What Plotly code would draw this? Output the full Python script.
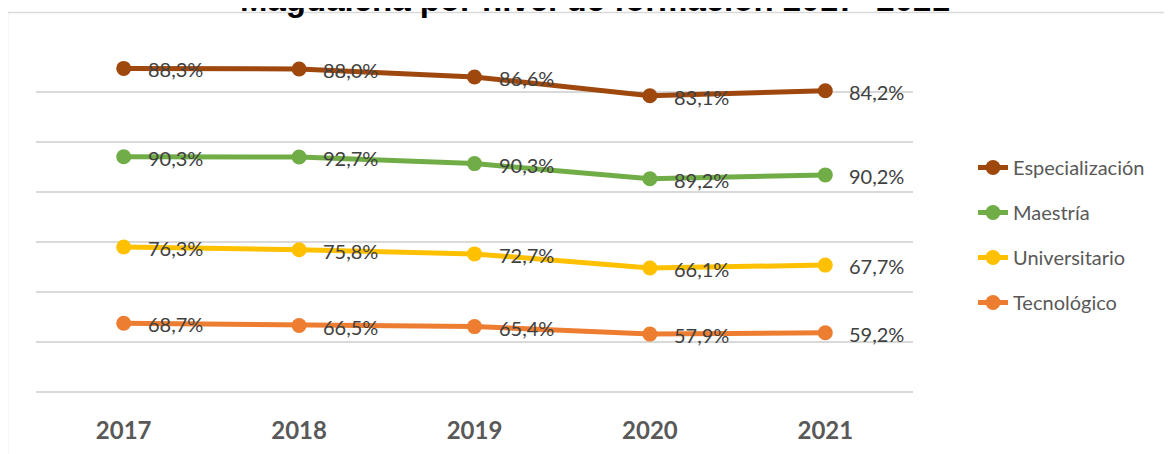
import plotly.graph_objects as go

years = ["2017", "2018", "2019", "2020", "2021"]
tecnologico = [68.7, 66.5, 65.4, 57.9, 59.2]
universitario = [76.3, 75.8, 72.7, 66.1, 67.7]
maestria = [90.3, 92.7, 90.3, 89.2, 90.2]
especializacion = [88.3, 88.0, 86.6, 83.1, 84.2]

series_names = ["Tecnológico", "Universitario", "Maestría", "Especialización"]
series_values = [tecnologico, universitario, maestria, especializacion]
series_colors = ["#ED7D31", "#FFC000", "#70AD47", "#9E480E"]
legend_ranks = [4, 3, 2, 1]

OFF = 8  # default page body margin
W, H = 1172 - OFF, 454 - OFF
PLOT_L, PLOT_R, PLOT_T, PLOT_B = 36, 913, 41, 392  # in screenshot pixels
ML, MT = PLOT_L - OFF, PLOT_T - OFF
MR, MB = W - (PLOT_R - OFF), H - (PLOT_B - OFF)
PW, PH = PLOT_R - PLOT_L, PLOT_B - PLOT_T

def px_to_paper_x(px):
    return (px - PLOT_L) / PW

def px_to_paper_y(py):
    return (PLOT_B - py) / PH

fig = go.Figure()
annotations = []
running = [0.0] * len(years)
for name, vals, col, rk in zip(series_names, series_values, series_colors, legend_ranks):
    fig.add_trace(go.Scatter(
        x=years, y=vals, name=name, stackgroup="s", fill="none",
        mode="lines+markers",
        line=dict(color=col, width=5),
        marker=dict(color=col, size=15),
        legendgroup=name, legendrank=rk,
    ))
    running = [r + v for r, v in zip(running, vals)]
    for i, (tot, v) in enumerate(zip(running, vals)):
        annotations.append(dict(
            x=i, y=tot, xref="x", yref="y",
            text=f"{v:.1f}".replace(".", ",") + "%",
            showarrow=False, xanchor="left", yanchor="middle",
            xshift=22, yshift=-1,
            font=dict(family="Lato", size=20, color="#404040"),
        ))

annotations.append(dict(
    x=px_to_paper_x(595), y=px_to_paper_y(20), xref="paper", yref="paper",
    text="<b>Magdalena por nivel de formación 2017- 2021</b>",
    showarrow=False, xanchor="center", yanchor="bottom",
    font=dict(family="Liberation Sans", size=33, color="#000000"),
))

fig.update_layout(
    width=W, height=H,
    margin=dict(l=ML, r=MR, t=MT, b=MB, autoexpand=False),
    paper_bgcolor="white", plot_bgcolor="white",
    showlegend=True,
    legend=dict(
        x=px_to_paper_x(973), y=px_to_paper_y(148), xanchor="left", yanchor="top",
        font=dict(family="Lato", size=20, color="#595959"),
        tracegroupgap=16, bgcolor="rgba(0,0,0,0)",
    ),
    annotations=annotations,
    shapes=[dict(
        type="rect", xref="paper", yref="paper",
        x0=px_to_paper_x(7.5), x1=px_to_paper_x(1400),
        y0=px_to_paper_y(600), y1=px_to_paper_y(12.5),
        line=dict(color="#d9d9d9", width=1.5), fillcolor="rgba(0,0,0,0)",
        layer="below",
    )],
    xaxis=dict(
        type="category", range=[-0.5, 4.5], showgrid=False, zeroline=False,
        showline=False, ticks="", ticklabelstandoff=22,
        tickfont=dict(family="Lato", size=24, color="#595959", weight="bold"),
    ),
    yaxis=dict(
        range=[0, 351], dtick=50, showticklabels=False, showgrid=True,
        gridcolor="#d9d9d9", gridwidth=2, zeroline=True, zerolinecolor="#d9d9d9",
        zerolinewidth=2, showline=False, ticks="",
    ),
)

fig.write_html("out.html")
